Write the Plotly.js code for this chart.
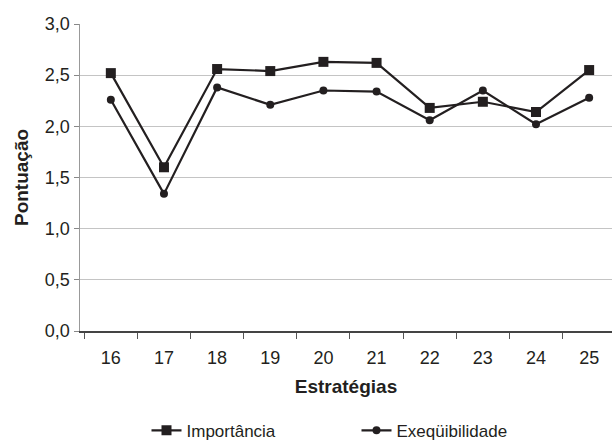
<!DOCTYPE html>
<html>
<head>
<meta charset="utf-8">
<script src="https://cdn.plot.ly/plotly-3.0.1.min.js"></script>
<style>html,body{margin:0;padding:0;background:#fff;}#chart{width:612px;height:441px;}</style>
</head>
<body>
<div id="chart"></div>
<script>
const categories = ["16","17","18","19","20","21","22","23","24","25"];
const importancia = [2.52, 1.60, 2.56, 2.54, 2.63, 2.62, 2.18, 2.24, 2.14, 2.55];
const exequibilidade = [2.26, 1.34, 2.38, 2.21, 2.35, 2.34, 2.06, 2.35, 2.02, 2.28];
const seriesNames = ["Importância", "Exeqüibilidade"];
const yTicks = [0, 0.5, 1.0, 1.5, 2.0, 2.5, 3.0];

const font = "Liberation Sans, Arial, sans-serif";
const traces = [
  {x: categories, y: importancia, name: seriesNames[0], type: "scatter", mode: "lines+markers",
   line: {color: "#231f20", width: 2.2}, marker: {symbol: "square", size: 10, color: "#231f20"}},
  {x: categories, y: exequibilidade, name: seriesNames[1], type: "scatter", mode: "lines+markers",
   line: {color: "#231f20", width: 2.2}, marker: {symbol: "circle", size: 8, color: "#231f20"}}
];
const layout = {
  width: 612, height: 441,
  margin: {l: 80, r: 0, t: 24, b: 110, autoexpand: false},
  paper_bgcolor: "#fff", plot_bgcolor: "#fff",
  separators: ",.",
  font: {family: font, color: "#231f20", size: 18},
  showlegend: true,
  legend: {orientation: "h", x: 0.125, xanchor: "left", y: -0.325, yanchor: "middle",
           font: {size: 17, family: font, color: "#231f20"}, entrywidth: 165, entrywidthmode: "pixels"},
  xaxis: {type: "category", range: [-0.58, 9.43], tickson: "boundaries", ticks: "outside", ticklen: 6,
          tickcolor: "#555", showline: true, linecolor: "#444", linewidth: 1.5, showgrid: false,
          tickfont: {size: 18, family: font}, ticklabelstandoff: 10, fixedrange: true,
          title: {text: "<b>Estratégias</b>", font: {size: 19, family: font}, standoff: 12}},
  yaxis: {range: [0, 3], tickvals: yTicks, tickformat: ".1f", ticks: "outside", ticklen: 5,
          tickcolor: "#888", showline: true, linecolor: "#999", linewidth: 1.5,
          showgrid: true, gridcolor: "#c4c4c4", gridwidth: 1.2, zeroline: false,
          tickfont: {size: 18, family: font},
          title: {text: "<b>Pontuação</b>", font: {size: 19, family: font}, standoff: 11}}
};
Plotly.newPlot("chart", traces, layout, {displayModeBar: false, staticPlot: true});
</script>
</body>
</html>
